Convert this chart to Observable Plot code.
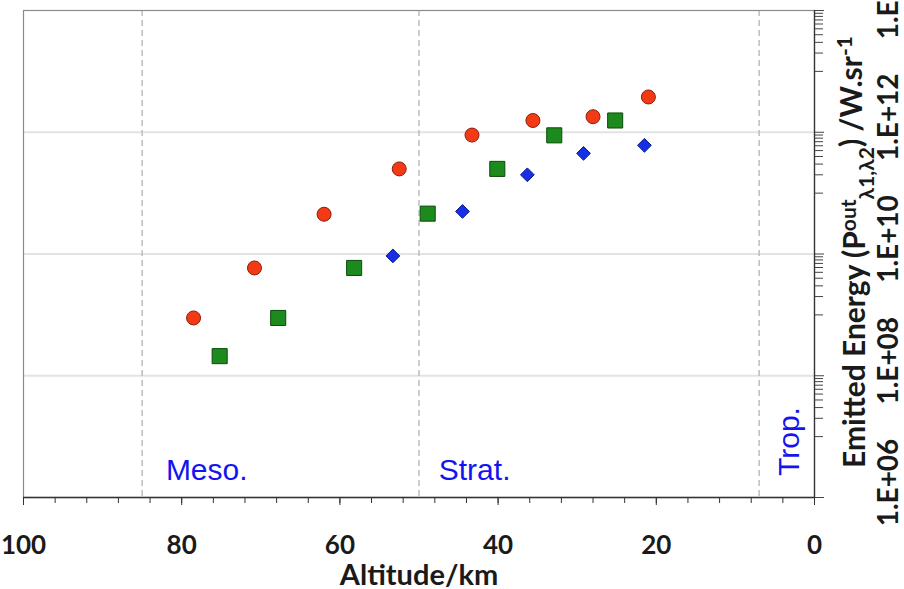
<!DOCTYPE html>
<html><head><meta charset="utf-8">
<script src="https://cdn.jsdelivr.net/npm/d3@7"></script>
<script src="https://cdn.jsdelivr.net/npm/@observablehq/plot@0.6"></script>
<style>body{margin:0;background:#fff;} #chart svg{display:block}</style>
</head><body><div id="chart"></div>
<script>
// ---- data ----
const redAlt   = [78.5, 70.8, 62.0, 52.5, 43.3, 35.6, 28.0, 21.0];
const redVal   = [8.9e8, 5.9e9, 4.5e10, 2.5e11, 9.0e11, 1.56e12, 1.8e12, 3.8e12];
const greenAlt = [75.2, 67.8, 58.2, 48.9, 40.1, 32.9, 25.2];
const greenVal = [2.1e8, 8.9e8, 5.9e9, 4.6e10, 2.5e11, 8.9e11, 1.56e12];
const blueAlt  = [53.3, 44.5, 36.3, 29.2, 21.5];
const blueVal  = [9.3e9, 5.0e10, 2.0e11, 4.5e11, 6.1e11];
const xTicks = [100, 80, 60, 40, 20, 0];
const yTicks = [1e6, 1e8, 1e10, 1e12, 1e14];
const yTickLabels = ["1.E+06", "1.E+08", "1.E+10", "1.E+12", "1.E+14"];
const gridVals = [1e8, 1e10, 1e12];
const boundaries = [85, 50, 7];
const regionNames = ["Meso.", "Strat."];
const regionStart = [82, 47.5];
const tropName = ["Trop."];
const tropAlt = [3.2];
const xLabel = "Altitude/km";
const yLabel = "Emitted Energy (Pout λ1,λ2) /W.sr-1";

// ---- derived tables ----
const red = redAlt.map((a, i) => ({alt: a, v: redVal[i]}));
const green = greenAlt.map((a, i) => ({alt: a, v: greenVal[i]}));
const blue = blueAlt.map((a, i) => ({alt: a, v: blueVal[i]}));
const minorX = d3.range(0, 101, 4);
const minorY = [];
for (const m of [1e6, 1e8, 1e10, 1e12]) for (let k = 1; k <= 9; k++) minorY.push(m * 10 * k);
const regions = regionNames.map((n, i) => ({name: n, alt: regionStart[i]}));

const bold = {fontFamily: "Lato, 'Open Sans', sans-serif", fontWeight: "bold", fill: "#1a1a1a"};

const plot = Plot.plot({
  width: 904, height: 589,
  marginLeft: 23, marginRight: 90, marginTop: 10, marginBottom: 92,
  x: {domain: [100, 0]},
  y: {type: "log", domain: [1e6, 1e14]},
  style: {background: "#fff", overflow: "visible"},
  marks: [
    Plot.ruleY(gridVals, {stroke: "#e3e3e3", strokeWidth: 2}),
    Plot.ruleX(boundaries, {stroke: "#bdbdbd", strokeWidth: 1.5, strokeDasharray: "6,4"}),
    Plot.frame({stroke: "#8a8a8a", strokeWidth: 1.2}),
    Plot.ruleY([1e6], {stroke: "#333", strokeWidth: 1.3}),
    Plot.ruleX([0], {stroke: "#333", strokeWidth: 1.3}),
    Plot.axisX({ticks: minorX, tickSize: 6, text: null, label: null, stroke: "#333"}),
    Plot.axisX({ticks: xTicks, tickSize: 8, text: null, label: null, stroke: "#333"}),
    Plot.axisY({anchor: "right", ticks: minorY, tickSize: 8, text: null, label: null, stroke: "#444"}),
    Plot.axisY({anchor: "right", ticks: yTicks, tickSize: 9, text: null, label: null, stroke: "#444"}),
    Plot.text(xTicks, {x: d => d, frameAnchor: "bottom", dy: 48, text: d => String(d), fontSize: 26, lineAnchor: "middle", textAnchor: "middle", ...bold}),
    Plot.text([xLabel], {frameAnchor: "bottom", dy: 78, text: d => d, fontSize: 29, lineAnchor: "middle", textAnchor: "middle", ...bold}),
    Plot.text(yTicks, {y: d => d, frameAnchor: "right", dx: 75, dy: -15, rotate: -90, text: (d, i) => yTickLabels[i], fontSize: 28, lineAnchor: "middle", textAnchor: "middle", ...bold}),
    Plot.text([yLabel], {frameAnchor: "right", dx: 41, dy: -2, rotate: -90, text: d => d, fontSize: 30, lineAnchor: "middle", textAnchor: "middle", ...bold}),
    Plot.text(regions, {x: "alt", frameAnchor: "bottom", dy: -27, text: "name", textAnchor: "start", lineAnchor: "middle", fontSize: 30, fontFamily: "'Liberation Sans', Arial, sans-serif", fill: "#1414f0"}),
    Plot.text(tropName, {x: (d, i) => tropAlt[i], frameAnchor: "bottom", dy: -56, rotate: -90, text: d => d, lineAnchor: "middle", textAnchor: "middle", fontSize: 30, fontFamily: "'Liberation Sans', Arial, sans-serif", fill: "#1414f0"}),
    Plot.dot(red, {x: "alt", y: "v", symbol: "circle", r: 7, fill: "#f23a17", stroke: "#8e1d06", strokeWidth: 1}),
    Plot.dot(green, {x: "alt", y: "v", symbol: "square", r: 8.5, fill: "#1c8a1c", stroke: "#0c4a0c", strokeWidth: 1}),
    Plot.dot(blue, {x: "alt", y: "v", symbol: "diamond2", r: 6.2, fill: "#1730e6", stroke: "#0a1a8a", strokeWidth: 1})
  ]
});

// rich text for the y label (superscript / subscript)
d3.select(plot).selectAll("text").filter(function () { return this.textContent === yLabel; }).each(function () {
  const t = d3.select(this);
  t.text(null);
  t.append("tspan").text("Emitted Energy (P");
  t.append("tspan").attr("dy", "-0.45em").attr("font-size", "0.7em").text("out");
  t.append("tspan").attr("dy", "0.85em").attr("font-size", "0.7em").text("λ1,λ2");
  t.append("tspan").attr("dy", "-0.4em").text(") /W.sr");
  t.append("tspan").attr("dy", "-0.45em").attr("font-size", "0.7em").text("-1");
});

document.getElementById("chart").appendChild(plot);
</script>
</body></html>
